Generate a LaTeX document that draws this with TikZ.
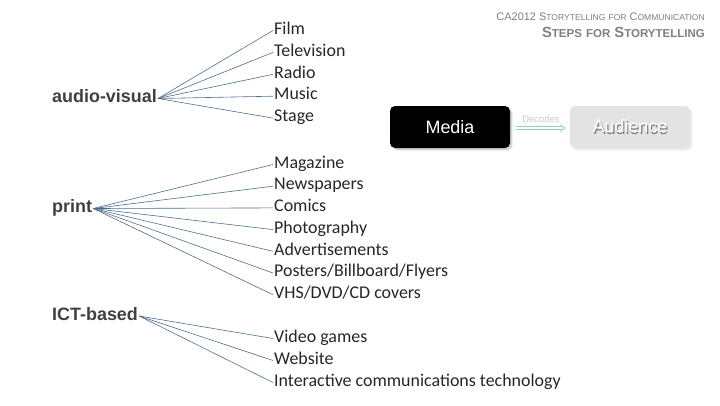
\documentclass[tikz,border=0pt]{standalone}
\usepackage{fontspec}
\usepackage{graphicx}
\setmainfont{Carlito}
\newfontfamily\stparial{Liberation Sans}
\usetikzlibrary{arrows.meta,shadows}
\definecolor{stpInk}{HTML}{262626}
\definecolor{stpGroup}{HTML}{404040}
\definecolor{stpLine}{HTML}{4F6D8F}
\definecolor{stpHead}{HTML}{7F7F7F}
\definecolor{stpPale}{HTML}{E3E3E3}
\definecolor{stpArrow}{HTML}{8FCAD6}
\newcommand\stpsc[2]{#1\scalebox{0.78}{\MakeUppercase{#2}}}
\tikzset{
  stp item/.style={anchor=west, inner sep=1pt, text height=11bp, text depth=3.5bp, font=\fontsize{18}{20}\selectfont, text=stpInk},
  stp group/.style={anchor=west, inner sep=1pt, text height=11bp, text depth=3bp, font=\stparial\bfseries\fontsize{18}{20}\selectfont, text=stpGroup},
  stp link/.style={draw=stpLine, line width=0.6pt},
  stp head/.style={font=\stparial, text=stpHead, inner sep=0pt},
  stp box/.style={rounded corners=5pt, minimum width=120bp, minimum height=42bp, font=\stparial\fontsize{18}{20}\selectfont, text=white},
}
\begin{document}
\begin{tikzpicture}[x=1bp, y=-1bp]
  \useasboundingbox (0,0) rectangle (720,405);

  % Title lines
  \node[stp head, anchor=base east, font=\stparial\fontsize{11}{13}\selectfont] (course) at (705,20)
    {CA2012 \stpsc{S}{torytelling} \stpsc{}{for} \stpsc{C}{ommunication}};
  \node[stp head, anchor=base east, font=\stparial\bfseries\fontsize{14.8}{17}\selectfont] (title) at (705,37)
    {\stpsc{S}{teps} \stpsc{}{for} \stpsc{S}{torytelling}};

  % Media and audience
  \node[stp box, fill=black, drop shadow={opacity=0.35}] (media) at (450,127) {Media};
  \node[stp box, fill=stpPale, drop shadow={opacity=0.15}] (audience) at (630,127)
    {\makebox[0pt][l]{\hspace{1.2pt}\raisebox{-1.5pt}{\color{gray}Audience}}Audience};
  \coordinate (dec) at ([xshift=6bp, yshift=-1bp]media.east);
  \draw[draw=stpArrow, line width=0.7pt, double=white, double distance=2.2pt, -{Implies}]
    (dec) -- node[above=2pt, font=\stparial\fontsize{9.5}{10}\selectfont, text=stpPale!75!gray] {Decodes}
    ([xshift=-4bp]audience.west |- dec);

  % Groups
  \node[stp group] (av) at (51,98.5) {audio-visual};
  \node[stp group] (pr) at (51,208.5) {print};
  \node[stp group] (ict) at (51,316) {ICT-based};

  % Items
  \foreach \name [count=\i] in {Film,Television,Radio,Music,Stage} {
    \node[stp item] (av\i) at (273,{30.5+21.9*(\i-1)}) {\name};
    \draw[stp link] (av.east) -- (av\i.west);
  }
  \foreach \name [count=\i] in {Magazine,Newspapers,Comics,Photography,Advertisements,{Posters/Billboard/Flyers},VHS/DVD/CD covers} {
    \node[stp item] (pr\i) at (273,{164.5+21.7*(\i-1)}) {\name};
    \draw[stp link] (pr.east) -- (pr\i.west);
  }
  \foreach \name [count=\i] in {Video games,Website,Interactive communications technology} {
    \node[stp item] (ict\i) at (273,{338.5+22*(\i-1)}) {\name};
    \draw[stp link] (ict.east) -- (ict\i.west);
  }
\end{tikzpicture}
\end{document}
